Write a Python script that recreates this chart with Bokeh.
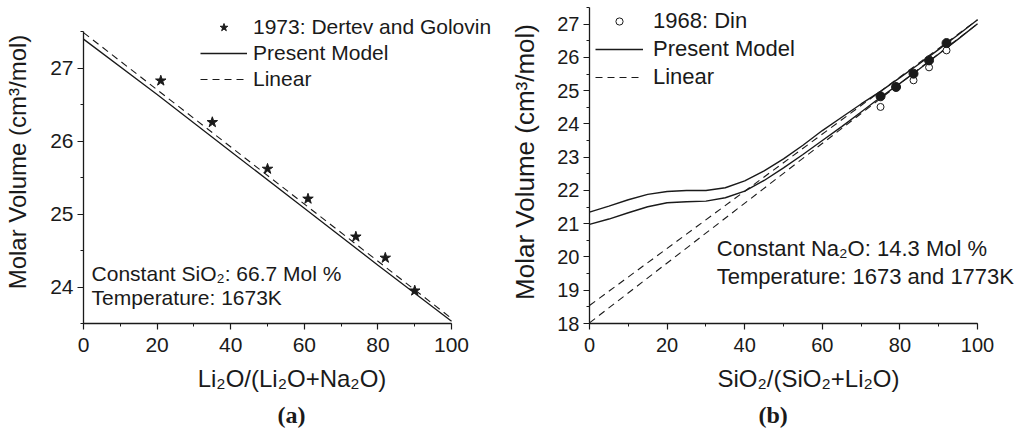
from bokeh.plotting import figure
from bokeh.layouts import row
from bokeh.models import Range1d, Legend, LegendItem, Label, SingleIntervalTicker, Title
from bokeh.embed import file_html
from bokeh.resources import INLINE

# ---------------- data: panel (a) ----------------
dg_x = [21, 35, 50, 61, 74, 82, 90]
dg_y = [26.83, 26.26, 25.62, 25.21, 24.69, 24.40, 23.95]
model_a_x = [0, 20, 40, 60, 80, 100]
model_a_y = [27.40, 26.64, 25.86, 25.08, 24.30, 23.53]
linear_a_x = [0, 100]
linear_a_y = [27.49, 23.57]

# ---------------- data: panel (b) ----------------
din_x = [75, 83.5, 87.5, 92]
din_y = [24.51, 25.31, 25.70, 26.21]
filled_x = [75, 79, 83.5, 87.5, 92]
filled_y = [24.83, 25.11, 25.51, 25.91, 26.43]
model_b_x = [0, 5, 10, 15, 20, 25, 30, 35, 40, 45, 50, 55, 60, 65, 70, 75, 80, 85, 90, 95, 100]
model_b_hi = [21.35, 21.53, 21.72, 21.88, 21.97, 22.00, 22.00, 22.08, 22.29, 22.59, 22.95,
              23.36, 23.80, 24.20, 24.60, 24.98, 25.39, 25.81, 26.24, 26.68, 27.13]
model_b_lo = [20.98, 21.14, 21.33, 21.51, 21.63, 21.66, 21.68, 21.78, 21.98, 22.30, 22.68,
              23.08, 23.50, 23.92, 24.36, 24.80, 25.22, 25.65, 26.10, 26.55, 27.01]
linear_b_x = [0, 100]
linear_b_hi = [18.54, 27.13]
linear_b_lo = [18.02, 27.01]

FONT = "Liberation Sans"
INK = "#1a1a1a"


def style(p, tick_px, xlab_px, ylab_px, ylab_standoff, xb, yb):
    for ax in (p.xaxis[0], p.yaxis[0]):
        ax.axis_line_width = 1.3
        ax.axis_line_color = INK
        ax.major_tick_line_color = INK
        ax.minor_tick_line_color = INK
        ax.major_tick_line_width = 1.2
        ax.minor_tick_line_width = 1.0
        ax.major_tick_out = 6
        ax.major_tick_in = 0
        ax.minor_tick_out = 3
        ax.minor_tick_in = 0
        ax.major_label_text_font = FONT
        ax.major_label_text_font_size = f"{tick_px}px"
        ax.major_label_text_color = INK
        ax.axis_label_text_font = FONT
        ax.axis_label_text_font_style = "normal"
        ax.axis_label_text_color = INK
    p.xaxis[0].major_label_standoff = 8
    p.yaxis[0].major_label_standoff = 4
    p.xaxis[0].axis_label_text_font_size = f"{xlab_px}px"
    p.yaxis[0].axis_label_text_font_size = f"{ylab_px}px"
    p.xaxis[0].axis_label_standoff = 10
    p.yaxis[0].axis_label_standoff = ylab_standoff
    p.xaxis[0].ticker = SingleIntervalTicker(interval=20, num_minor_ticks=2)
    p.yaxis[0].ticker = SingleIntervalTicker(interval=1, num_minor_ticks=2)
    p.xaxis[0].bounds = xb
    p.yaxis[0].bounds = yb
    p.xgrid.visible = False
    p.ygrid.visible = False
    p.outline_line_color = None
    p.background_fill_color = "white"
    p.border_fill_color = "white"


# ================= panel (a) =================
pa = figure(width=500, height=435, output_backend="svg", toolbar_location=None, title=None,
            x_range=Range1d(0, 113.3), y_range=Range1d(23.5, 27.93),
            min_border_left=83, min_border_right=0, min_border_top=0, min_border_bottom=107,
            x_axis_label="Li₂O/(Li₂O+Na₂O)", y_axis_label="Molar Volume (cm³/mol)")
style(pa, 21, 24, 24, 16, (0, 100), (23.5, 27.5))

ra_lin = pa.line(linear_a_x, linear_a_y, line_color=INK, line_width=1.1, line_dash="7 5")
ra_mod = pa.line(model_a_x, model_a_y, line_color=INK, line_width=1.3)
ra_star = pa.scatter(dg_x, dg_y, marker="star", size=11, fill_color=INK, line_color=INK)

leg_a = Legend(items=[LegendItem(label="1973: Dertev and Golovin", renderers=[ra_star]),
                      LegendItem(label="Present Model", renderers=[ra_mod]),
                      LegendItem(label="Linear", renderers=[ra_lin])],
               location=(117, 231), orientation="vertical",
               label_text_font=FONT, label_text_font_size="21px", label_text_color=INK,
               glyph_width=47, glyph_height=20, label_height=26, label_standoff=6,
               spacing=0, padding=0, margin=0,
               border_line_color=None, background_fill_alpha=0)
pa.add_layout(leg_a)

pa.add_layout(Label(x=2.2, y=24.18, text="Constant SiO₂: 66.7 Mol %", text_font=FONT,
                    text_font_size="21px", text_color=INK, text_baseline="middle"))
pa.add_layout(Label(x=2.2, y=23.86, text="Temperature: 1673K", text_font=FONT,
                    text_font_size="21px", text_color=INK, text_baseline="middle"))
pa.add_layout(Title(text="(a)", align="left", offset=194, text_font="Liberation Serif",
                    text_font_style="bold", text_font_size="24px", text_color=INK), "below")

# ================= panel (b) =================
pb = figure(width=527, height=435, output_backend="svg", toolbar_location=None, title=None,
            x_range=Range1d(0, 112.87), y_range=Range1d(18, 27.71),
            min_border_left=89, min_border_right=0, min_border_top=0, min_border_bottom=112,
            x_axis_label="SiO₂/(SiO₂+Li₂O)", y_axis_label="Molar Volume (cm³/mol)")
style(pb, 20, 24, 26, 14, (0, 100), (18, 27.5))

rb_lin1 = pb.line(linear_b_x, linear_b_hi, line_color=INK, line_width=1.1, line_dash="7 5")
pb.line(linear_b_x, linear_b_lo, line_color=INK, line_width=1.1, line_dash="7 5")
rb_mod1 = pb.line(model_b_x, model_b_hi, line_color=INK, line_width=1.4)
pb.line(model_b_x, model_b_lo, line_color=INK, line_width=1.4)
rb_din = pb.scatter(din_x, din_y, marker="circle", size=7, fill_color="white",
                    line_color=INK, line_width=1.0)
pb.scatter(filled_x, filled_y, marker="circle", size=9, fill_color=INK, line_color=INK)

leg_b = Legend(items=[LegendItem(label="1968: Din", renderers=[rb_din]),
                      LegendItem(label="Present Model", renderers=[rb_mod1]),
                      LegendItem(label="Linear", renderers=[rb_lin1])],
               location=(6, 232), orientation="vertical",
               label_text_font=FONT, label_text_font_size="22px", label_text_color=INK,
               glyph_width=48, glyph_height=18, label_height=28, label_standoff=10,
               spacing=0, padding=0, margin=0,
               border_line_color=None, background_fill_alpha=0)
pb.add_layout(leg_b)

pb.add_layout(Label(x=32.8, y=20.25, text="Constant Na₂O: 14.3 Mol %", text_font=FONT,
                    text_font_size="22px", text_color=INK, text_baseline="middle"))
pb.add_layout(Label(x=32.8, y=19.42, text="Temperature: 1673 and 1773K", text_font=FONT,
                    text_font_size="22px", text_color=INK, text_baseline="middle"))
pb.add_layout(Title(text="(b)", align="left", offset=169, text_font="Liberation Serif",
                    text_font_style="bold", text_font_size="24px", text_color=INK), "below")

layout = row(pa, pb, spacing=0)
open("out.html", "w").write(file_html(layout, INLINE))
